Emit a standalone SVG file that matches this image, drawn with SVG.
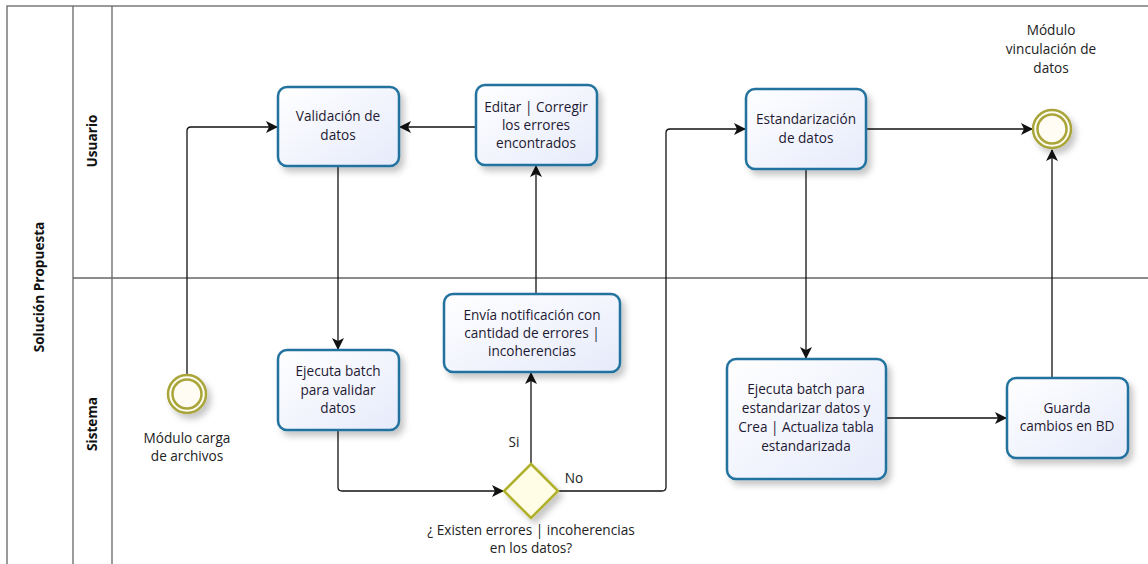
<svg xmlns="http://www.w3.org/2000/svg" width="1148" height="564" viewBox="0 0 1148 564">
<defs>
<linearGradient id="taskFill" x1="0" y1="0" x2="1" y2="1">
<stop offset="0" stop-color="#ffffff"/>
<stop offset="1" stop-color="#e6ebfb"/>
</linearGradient>
<filter id="shadow" x="-20%" y="-20%" width="150%" height="160%">
<feDropShadow dx="4" dy="5" stdDeviation="3" flood-color="#000" flood-opacity="0.22"/>
</filter>
<marker id="arrow" viewBox="0 0 12 12" refX="11" refY="6" markerWidth="12" markerHeight="12" markerUnits="userSpaceOnUse" orient="auto">
<path d="M0,0 L12,6 L0,12 L3,6 Z" fill="#111"/>
</marker>
</defs>
<style>
.lane{fill:none;stroke:#666;stroke-width:1.3}
.task{fill:url(#taskFill);stroke:#22729f;stroke-width:2.5;filter:url(#shadow)}
.evt{fill:#fffdf3;stroke:#a9a53a;stroke-width:2.5}
.gw{fill:#fffde6;stroke:#b1b02a;stroke-width:2.5}
.t{font-family:"Open Sans","Noto Sans",sans-serif;font-size:13.6px;fill:#1f1a33;text-anchor:middle}
.lbl{font-family:"Open Sans","Noto Sans",sans-serif;font-size:13.6px;fill:#222;text-anchor:middle}
.lt{font-family:"Open Sans","Noto Sans",sans-serif;font-size:13.6px;font-weight:bold;fill:#111;text-anchor:middle}
.c{fill:none;stroke:#111;stroke-width:1.3;marker-end:url(#arrow)}
</style>
<rect width="1148" height="564" fill="#ffffff"/>
<g id="pool">
<rect class="lane" x="7" y="6" width="1160" height="580"/>
<line class="lane" x1="73" y1="6" x2="73" y2="586"/>
<line class="lane" x1="112" y1="6" x2="112" y2="586"/>
<line class="lane" x1="73" y1="278" x2="1167" y2="278"/>
<text class="lt" transform="translate(44,287) rotate(-90)">Solución Propuesta</text>
<text class="lt" transform="translate(97,141) rotate(-90)">Usuario</text>
<text class="lt" transform="translate(97,424) rotate(-90)">Sistema</text>
</g>
<g id="connectors">
<path class="c" d="M187,374 V131 Q187,127 191,127 H277"/>
<path class="c" d="M338,165 V349"/>
<path class="c" d="M338,430 V487 Q338,491 342,491 H503"/>
<path class="c" d="M531,464 V373"/>
<text class="lbl" x="514" y="447">Si</text>
<path class="c" d="M536,294 V166"/>
<path class="c" d="M476,127 H400"/>
<path class="c" d="M558,491 H662 Q666,491 666,487 V133 Q666,129 670,129 H745"/>
<text class="lbl" x="574" y="483">No</text>
<path class="c" d="M866,129 H1032"/>
<path class="c" d="M806,169 V358"/>
<path class="c" d="M886,418 H1006"/>
<path class="c" d="M1052,378 V150"/>
</g>
<g id="start">
<circle class="evt" cx="187" cy="394" r="19" filter="url(#shadow)"/>
<circle class="evt" cx="187" cy="394" r="14.5" stroke-width="1.8"/>
<text class="lbl" x="187" y="443">Módulo carga</text>
<text class="lbl" x="187" y="461">de archivos</text>
</g>
<g id="validacion">
<rect class="task" x="278" y="87" width="121" height="79" rx="9"/>
<text class="t" x="338" y="121">Validación de</text>
<text class="t" x="338" y="140">datos</text>
</g>
<g id="editar">
<rect class="task" x="476" y="85" width="121" height="80" rx="9"/>
<text class="t" x="536" y="112">Editar | Corregir</text>
<text class="t" x="536" y="130">los errores</text>
<text class="t" x="536" y="148">encontrados</text>
</g>
<g id="estandarizacion">
<rect class="task" x="746" y="89" width="120" height="80" rx="9"/>
<text class="t" x="806" y="124">Estandarización</text>
<text class="t" x="806" y="143">de datos</text>
</g>
<g id="end">
<circle class="evt" cx="1052" cy="129" r="19" filter="url(#shadow)"/>
<circle class="evt" cx="1052" cy="129" r="14.5" stroke-width="1.8"/>
<text class="lbl" x="1051" y="35">Módulo</text>
<text class="lbl" x="1051" y="54">vinculación de</text>
<text class="lbl" x="1051" y="73">datos</text>
</g>
<g id="ejecuta-validar">
<rect class="task" x="278" y="350" width="121" height="80" rx="9"/>
<text class="t" x="338" y="376">Ejecuta batch</text>
<text class="t" x="338" y="395">para validar</text>
<text class="t" x="338" y="413">datos</text>
</g>
<g id="envia">
<rect class="task" x="444" y="294" width="176" height="78" rx="9"/>
<text class="t" x="532" y="320">Envía notificación con</text>
<text class="t" x="532" y="338">cantidad de errores |</text>
<text class="t" x="532" y="356">incoherencias</text>
</g>
<g id="gateway">
<polygon class="gw" points="531,464 558,491 531,518 504,491" filter="url(#shadow)"/>
<text class="lbl" x="531" y="535">¿ Existen errores | incoherencias</text>
<text class="lbl" x="531" y="553">en los datos?</text>
</g>
<g id="ejecuta-estandarizar">
<rect class="task" x="727" y="359" width="159" height="120" rx="9"/>
<text class="t" x="806" y="394">Ejecuta batch para</text>
<text class="t" x="806" y="413">estandarizar datos y</text>
<text class="t" x="806" y="432">Crea | Actualiza tabla</text>
<text class="t" x="806" y="451">estandarizada</text>
</g>
<g id="guarda">
<rect class="task" x="1007" y="378" width="121" height="80" rx="9"/>
<text class="t" x="1067" y="413">Guarda</text>
<text class="t" x="1067" y="431">cambios en BD</text>
</g>
</svg>
